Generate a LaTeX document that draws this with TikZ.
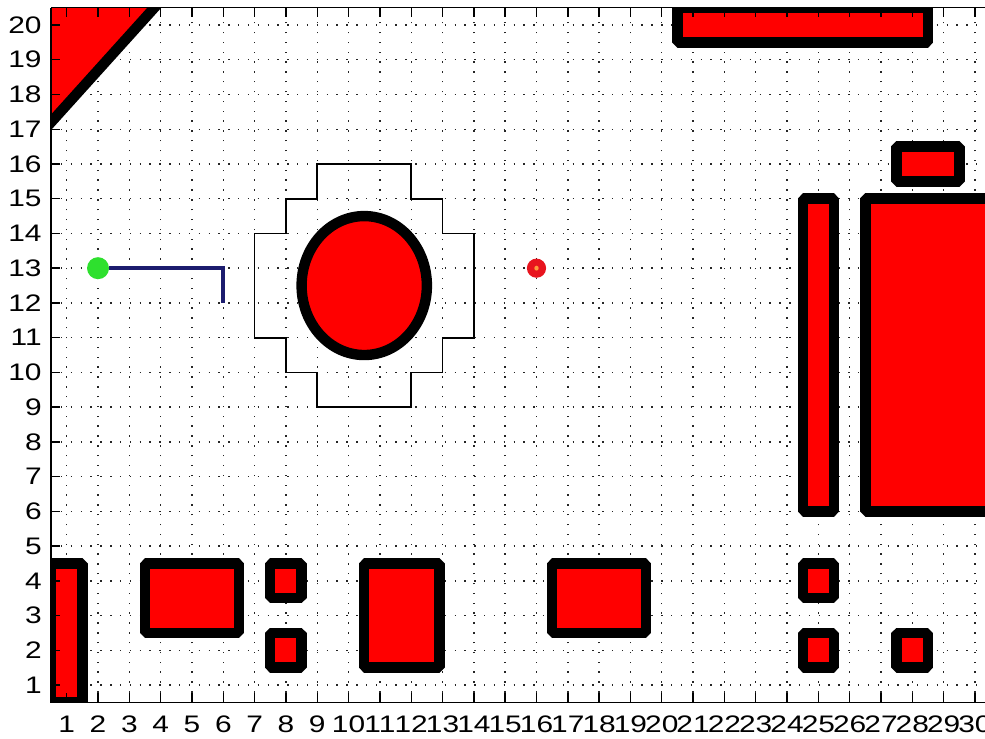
\documentclass[tikz,border=0pt]{standalone}
\usepackage{fontspec}
\setmainfont{Liberation Sans}
\usepackage{tikz}
\usetikzlibrary{positioning}
\definecolor{ObstacleRed}{HTML}{FF0000}
\definecolor{PathBlue}{HTML}{1C1C6E}
\definecolor{StartGreen}{HTML}{2EE02E}
\definecolor{GoalRed}{HTML}{E8141E}
\definecolor{GoalCore}{HTML}{FF9A3C}

\begin{document}
\begin{tikzpicture}[x=0.783cm, y=0.8685cm,
  ticklabel/.style={font=\fontsize{17}{17}\selectfont, inner sep=0pt, xscale=1.25},
  obstacle/.style={fill=ObstacleRed, draw=black, line width=7.4pt, line join=bevel},
  gridline/.style={line width=1pt, dash pattern=on 1pt off 6pt, black!85},
  hull/.style={draw=black, line width=1.2pt},
  axisline/.style={line width=1pt, black},
  route/.style={PathBlue, line width=2.6pt},
  startmark/.style={circle, fill=StartGreen, inner sep=0pt, minimum size=0.55cm},
  goalmark/.style={circle, fill=GoalRed, inner sep=0pt, minimum size=0.48cm}]
  \useasboundingbox (-1.13,-0.53) rectangle (30.32,20.72);
  \begin{scope}
    \clip (0.5,0.5) rectangle (30.5,20.5);
    \foreach \i in {1,...,30} \draw[gridline] (\i,0.5) -- (\i,20.5);
    \foreach \j in {1,...,20} \draw[gridline] (0.5,\j) -- (30.5,\j);
    \filldraw[obstacle] (-1,15.7) -- (-1,22) -- (5.3,22) -- cycle;
    \filldraw[obstacle] (20.5,19.5) rectangle (28.5,20.5);
    \filldraw[obstacle] (27.5,15.5) rectangle (29.5,16.5);
    \filldraw[obstacle] (24.5,6) rectangle (25.5,15);
    \filldraw[obstacle] (26.5,6) rectangle (31,15);
    \filldraw[obstacle] (0.5,0.5) rectangle (1.5,4.5);
    \filldraw[obstacle] (3.5,2.5) rectangle (6.5,4.5);
    \filldraw[obstacle] (7.5,3.5) rectangle (8.5,4.5);
    \filldraw[obstacle] (7.5,1.5) rectangle (8.5,2.5);
    \filldraw[obstacle] (10.5,1.5) rectangle (12.9,4.5);
    \filldraw[obstacle] (16.5,2.5) rectangle (19.5,4.5);
    \filldraw[obstacle] (24.5,3.5) rectangle (25.5,4.5);
    \filldraw[obstacle] (24.5,1.5) rectangle (25.5,2.5);
    \filldraw[obstacle] (27.5,1.5) rectangle (28.5,2.5);
    \filldraw[obstacle] (10.5,12.5) ellipse (2 and 2);
    \draw[hull] (9,16) -- (12,16) -- (12,15) -- (13,15) -- (13,14) -- (14,14)
      -- (14,11) -- (13,11) -- (13,10) -- (12,10) -- (12,9) -- (9,9) -- (9,10)
      -- (8,10) -- (8,11) -- (7,11) -- (7,14) -- (8,14) -- (8,15) -- (9,15) -- cycle;
  \end{scope}

  \coordinate (turn) at (6,13);
  \coordinate (pathend) at (6,12);
  \node[startmark] (start) at (2,13) {};
  \draw[route] (start) -- (turn) -- (pathend);
  \node[goalmark] (goal) at (16,13) {};
  \fill[GoalCore] (goal.center) circle (0.07);

  \draw[axisline] (0.5,20.5) -- (0.5,0.5) -- (30.5,0.5);
  \draw[axisline] (0.5,20.5) -- (30.5,20.5);
  \foreach \i in {1,...,30} {
    \draw[axisline] (\i,0.5) -- (\i,0.76);
    \draw[axisline] (\i,20.5) -- (\i,20.24);
    \node[ticklabel] (xl\i) at (\i,-0.12) {\i};
  }
  \foreach \j in {1,...,20} {
    \draw[axisline] (0.5,\j) -- (0.77,\j);
    \node[ticklabel, anchor=east] (yl\j) at (0.21,\j) {\j};
  }
\end{tikzpicture}
\end{document}
